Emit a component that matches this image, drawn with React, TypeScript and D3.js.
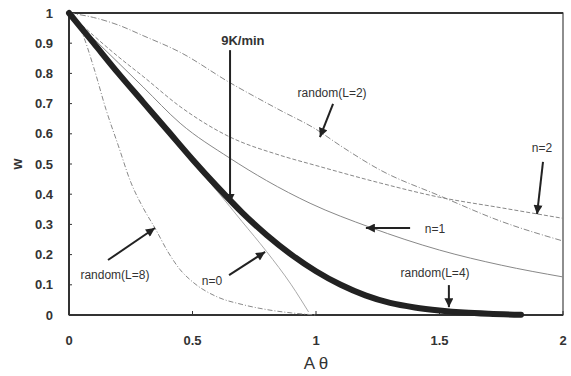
import React from "react";
import * as d3 from "d3";

// ---- data ----
const xThick = [0, 0.1, 0.2, 0.3, 0.4, 0.5, 0.6, 0.7, 0.8, 0.9, 1.0, 1.1, 1.2, 1.3, 1.4, 1.5, 1.6, 1.7, 1.83];
const wThick = [1.0, 0.9, 0.8, 0.705, 0.61, 0.515, 0.425, 0.34, 0.265, 0.2, 0.145, 0.1, 0.065, 0.04, 0.025, 0.015, 0.008, 0.004, 0.001];

const xN0 = [0, 0.2, 0.4, 0.6, 0.7, 0.8, 0.9, 0.97];
const wN0 = [1.0, 0.8, 0.6, 0.41, 0.31, 0.21, 0.1, 0.01];

const xL8 = [0, 0.05, 0.1, 0.15, 0.2, 0.25, 0.3, 0.35, 0.4, 0.45, 0.5, 0.6, 0.7, 0.8, 0.9, 1.0];
const wL8 = [1.0, 0.94, 0.82, 0.68, 0.56, 0.44, 0.355, 0.285, 0.21, 0.15, 0.11, 0.06, 0.035, 0.018, 0.007, 0.0];

const xL2 = [0, 0.1, 0.2, 0.3, 0.45, 0.65, 0.85, 1.0, 1.1, 1.26, 1.5, 1.75, 2.0];
const wL2 = [1.0, 0.985, 0.96, 0.925, 0.87, 0.77, 0.68, 0.615, 0.56, 0.48, 0.395, 0.31, 0.245];

const xN2 = [0, 0.1, 0.2, 0.3, 0.45, 0.65, 0.85, 1.0, 1.26, 1.5, 1.75, 2.0];
const wN2 = [1.0, 0.925, 0.855, 0.79, 0.69, 0.59, 0.53, 0.495, 0.437, 0.39, 0.355, 0.32];

const xN1 = [0, 0.1, 0.2, 0.3, 0.45, 0.65, 0.8, 0.976, 1.22, 1.5, 1.75, 2.0];
const wN1 = [1.0, 0.915, 0.835, 0.755, 0.635, 0.52, 0.445, 0.37, 0.29, 0.215, 0.165, 0.126];

const xTicks = [0, 0.5, 1, 1.5, 2];
const xTickLabels = ["0", "0.5", "1", "1.5", "2"];
const yTicks = [0, 0.1, 0.2, 0.3, 0.4, 0.5, 0.6, 0.7, 0.8, 0.9, 1];
const yTickLabels = ["0", "0.1", "0.2", "0.3", "0.4", "0.5", "0.6", "0.7", "0.8", "0.9", "1"];

// annotations: label, text anchor (data coords), arrow from -> to (data coords)
const annLabels = ["9K/min", "random(L=2)", "n=2", "n=1", "random(L=4)", "random(L=8)", "n=0"];
const annText = [[0.704, 0.894], [1.065, 0.722], [1.915, 0.54], [1.482, 0.272], [1.482, 0.126], [0.186, 0.119], [0.579, 0.099]];
const annFrom = [[0.652, 0.877], [1.069, 0.699], [1.919, 0.507], [1.381, 0.288], [1.538, 0.099], [0.158, 0.182], [0.648, 0.132]];
const annTo = [[0.652, 0.371], [1.016, 0.589], [1.895, 0.334], [1.202, 0.288], [1.538, 0.026], [0.348, 0.288], [0.794, 0.209]];

const W = 571;
const H = 376;

export default function App() {
  const x = d3.scaleLinear().domain([0, 2]).range([69, 563]);
  const y = d3.scaleLinear().domain([0, 1]).range([315, 13]);
  const line = d3
    .line<[number, number]>()
    .x((d) => x(d[0]))
    .y((d) => y(d[1]))
    .curve(d3.curveMonotoneX);
  const pts = (xs: number[], ws: number[]) => xs.map((v, i) => [v, ws[i]] as [number, number]);

  const font = "'Liberation Sans', Arial, sans-serif";
  const thin = [
    { d: line(pts(xN0, wN0)), c: "#aaa", w: 1, dash: "" },
    { d: line(pts(xL8, wL8)), c: "#888", w: 1, dash: "5,2,1,2" },
    { d: line(pts(xL2, wL2)), c: "#888", w: 1, dash: "6,2,1,2" },
    { d: line(pts(xN2, wN2)), c: "#888", w: 1, dash: "4,2" },
    { d: line(pts(xN1, wN1)), c: "#888", w: 1, dash: "" },
  ];

  return (
    <svg
      width={W}
      height={H}
      style={{ position: "absolute", left: 0, top: 0, background: "#fff" }}
      fontFamily={font}
    >
      <defs>
        <marker id="ah" viewBox="0 0 10 10" refX="10" refY="5" markerWidth="10" markerHeight="9" markerUnits="userSpaceOnUse" orient="auto">
          <path d="M0,0 L10,5 L0,10 z" fill="#222" />
        </marker>
      </defs>
      {/* frame */}
      <rect x={x(0)} y={y(1)} width={x(2) - x(0)} height={y(0) - y(1)} fill="none" stroke="#444" strokeWidth={1.2} />
      <line x1={x(0)} x2={x(2)} y1={y(1)} y2={y(1)} stroke="#333" strokeWidth={2} />
      <line x1={x(0)} x2={x(0)} y1={y(1)} y2={y(0)} stroke="#333" strokeWidth={2} />
      <line x1={x(0)} x2={x(2)} y1={y(0)} y2={y(0)} stroke="#333" strokeWidth={2} />
      {/* ticks */}
      {yTicks.map((t, i) => (
        <g key={"y" + i}>
          <line x1={x(0)} x2={x(0) + 3} y1={y(t)} y2={y(t)} stroke="#333" />
          <text x={53} y={y(t)} dy="0.35em" textAnchor="end" fontSize={13} fontWeight="bold" fill="#333">
            {yTickLabels[i]}
          </text>
        </g>
      ))}
      {xTicks.map((t, i) => (
        <g key={"x" + i}>
          <line x1={x(t)} x2={x(t)} y1={y(0)} y2={y(0) - 4} stroke="#333" />
          <text x={x(t)} y={y(0) + 30} textAnchor="middle" fontSize={13} fontWeight="bold" fill="#333">
            {xTickLabels[i]}
          </text>
        </g>
      ))}
      {/* axis titles */}
      <text x={x(1)} y={369} textAnchor="middle" fontSize={17} fill="#333">
        A θ
      </text>
      <text transform={`translate(17,${y(0.5)}) rotate(-90)`} textAnchor="middle" dy="0.35em" fontSize={14} fontWeight="bold" fill="#333">
        w
      </text>
      {/* curves */}
      {thin.map((c, i) => (
        <path key={"c" + i} d={c.d || ""} fill="none" stroke={c.c} strokeWidth={c.w} strokeDasharray={c.dash} />
      ))}
      <path d={line(pts(xThick, wThick)) || ""} fill="none" stroke="#222" strokeWidth={6} strokeLinecap="round" />
      {/* annotations */}
      {annLabels.map((lab, i) => (
        <g key={"a" + i}>
          <text
            x={x(annText[i][0])}
            y={y(annText[i][1])}
            textAnchor="middle"
            fontSize={i === 0 ? 13 : 12}
            fontWeight={i === 0 ? "bold" : "normal"}
            fill="#333"
          >
            {lab}
          </text>
          <line
            x1={x(annFrom[i][0])}
            y1={y(annFrom[i][1])}
            x2={x(annTo[i][0])}
            y2={y(annTo[i][1])}
            stroke="#222"
            strokeWidth={2}
            markerEnd="url(#ah)"
          />
        </g>
      ))}
    </svg>
  );
}
